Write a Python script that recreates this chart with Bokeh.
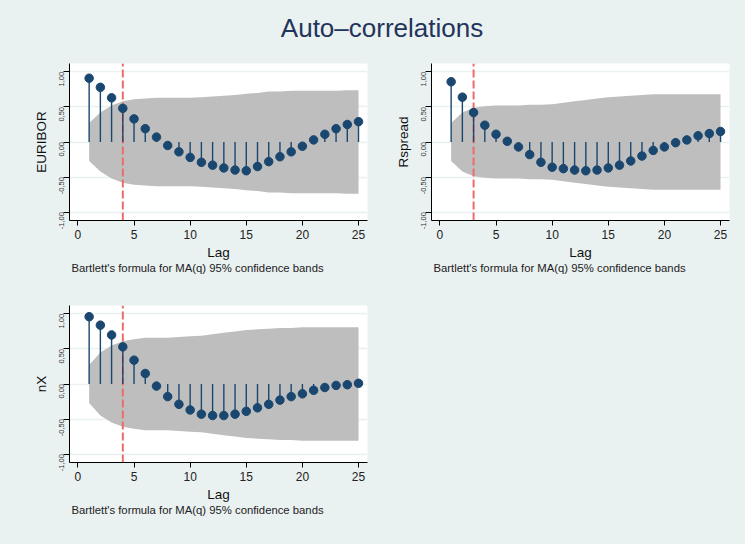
import math
from bokeh.plotting import figure
from bokeh.layouts import column, row
from bokeh.models import Range1d, Title, FixedTicker, Spacer
from bokeh.embed import file_html
from bokeh.resources import INLINE
from bokeh.core.properties import value

# ---------------- data ----------------
lags = list(range(1, 26))

euribor_acf = [0.91, 0.78, 0.63, 0.48, 0.33, 0.19, 0.07, -0.05, -0.14, -0.22,
               -0.29, -0.33, -0.37, -0.40, -0.41, -0.35, -0.28, -0.21, -0.14, -0.06,
               0.03, 0.11, 0.19, 0.25, 0.29]
euribor_band = [0.27, 0.42, 0.52, 0.58, 0.61, 0.62, 0.63, 0.63, 0.63, 0.63,
                0.64, 0.65, 0.66, 0.67, 0.69, 0.70, 0.72, 0.72, 0.73, 0.73,
                0.73, 0.73, 0.73, 0.74, 0.74]

rspread_acf = [0.86, 0.64, 0.42, 0.24, 0.11, 0.01, -0.07, -0.18, -0.29, -0.36,
               -0.38, -0.40, -0.41, -0.40, -0.37, -0.33, -0.27, -0.20, -0.12, -0.07,
               -0.01, 0.03, 0.09, 0.12, 0.15]
rspread_band = [0.27, 0.42, 0.49, 0.51, 0.52, 0.52, 0.52, 0.53, 0.53, 0.54,
                0.56, 0.58, 0.60, 0.62, 0.64, 0.65, 0.66, 0.67, 0.68, 0.68,
                0.68, 0.68, 0.68, 0.68, 0.68]

nx_acf = [0.96, 0.84, 0.70, 0.53, 0.34, 0.15, -0.03, -0.18, -0.29, -0.37,
          -0.43, -0.45, -0.45, -0.43, -0.39, -0.34, -0.29, -0.23, -0.18, -0.14,
          -0.09, -0.05, -0.02, -0.01, 0.01]
nx_band = [0.27, 0.45, 0.55, 0.61, 0.64, 0.66, 0.66, 0.66, 0.67, 0.68,
           0.69, 0.71, 0.73, 0.75, 0.77, 0.78, 0.79, 0.80, 0.80, 0.81,
           0.81, 0.81, 0.81, 0.81, 0.81]

series_names = ["EURIBOR", "Rspread", "nX"]
ma_orders = [4, 3, 4]

y_ticks = [-1.0, -0.5, 0.0, 0.5, 1.0]
y_tick_labels = ["-1,00", "-0,50", "0,00", "0,50", "1,00"]
x_ticks = [0, 5, 10, 15, 20, 25]

title_text = "Auto\u2013correlations"
note_text = "Bartlett's formula for MA(q) 95% confidence bands"
x_label = "Lag"

# ---------------- style ----------------
BG = "#EAF1F1"
NAVY = "#1A476F"
BAND = "#BEBEBE"
RED = "#EE6B6B"
FONT = "Liberation Sans"
Y_MIN, Y_MAX = -1.12, 1.12
X_MIN, X_MAX = -0.75, 25.8


def make_panel(name, acf, band, q, width, left_border, right_border):
    p = figure(width=width, height=242,
               x_range=Range1d(X_MIN, X_MAX), y_range=Range1d(Y_MIN, Y_MAX),
               output_backend="svg", toolbar_location=None,
               min_border_left=left_border, min_border_right=right_border,
               min_border_top=13, min_border_bottom=72)
    p.background_fill_color = "white"
    p.border_fill_color = BG
    p.outline_line_color = None

    neg_band = [-b for b in band]
    p.varea(x=lags, y1=neg_band, y2=band, fill_color=BAND)
    p.segment(x0=[q], y0=[Y_MIN], x1=[q], y1=[Y_MAX], line_color=RED,
              line_width=2, line_dash="8 3")
    p.segment(x0=lags, y0=[0] * len(lags), x1=lags, y1=acf,
              line_color=NAVY, line_width=1.4)
    p.scatter(x=lags, y=acf, size=8.5, fill_color=NAVY, line_color=NAVY)

    # grid
    p.xgrid.visible = False
    p.ygrid.ticker = FixedTicker(ticks=y_ticks)
    p.ygrid.grid_line_color = BG
    p.ygrid.grid_line_width = 1.5

    # y axis
    ya = p.yaxis[0]
    ya.ticker = FixedTicker(ticks=y_ticks)
    ya.major_label_overrides = dict(zip(y_ticks, y_tick_labels))
    ya.major_label_orientation = math.pi / 2
    ya.major_label_text_font = FONT
    ya.major_label_text_font_size = "7.5px"
    ya.major_label_text_color = "#333333"
    ya.major_label_standoff = 2
    ya.axis_label = name
    ya.axis_label_text_font = FONT
    ya.axis_label_text_font_size = "13.5px"
    ya.axis_label_text_font_style = "normal"
    ya.axis_label_text_color = "#111111"
    ya.axis_label_standoff = 5
    ya.major_tick_out = 6
    ya.major_tick_in = 0
    ya.minor_tick_out = 0
    ya.minor_tick_in = 0
    ya.axis_line_color = "black"
    ya.major_tick_line_color = "black"

    # x axis
    xa = p.xaxis[0]
    xa.ticker = FixedTicker(ticks=x_ticks)
    xa.major_label_text_font = FONT
    xa.major_label_text_font_size = "12px"
    xa.major_label_text_color = "#222222"
    xa.major_label_standoff = 4
    xa.axis_label = x_label
    xa.axis_label_text_font = FONT
    xa.axis_label_text_font_size = "13.5px"
    xa.axis_label_text_font_style = "normal"
    xa.axis_label_text_color = "#111111"
    xa.axis_label_standoff = 3
    xa.major_tick_out = 5
    xa.major_tick_in = 0
    xa.minor_tick_out = 0
    xa.minor_tick_in = 0
    xa.axis_line_color = "black"
    xa.major_tick_line_color = "black"

    note = Title(text=note_text, align="left", text_font=FONT,
                 text_font_size="11.3px", text_font_style="normal",
                 text_color="#222222", standoff=-5, offset=2)
    p.add_layout(note, "below")
    return p


p1 = make_panel(series_names[0], euribor_acf, euribor_band, ma_orders[0], 370, 69, 3)
p2 = make_panel(series_names[1], rspread_acf, rspread_band, ma_orders[1], 375, 61, 16)
p3 = make_panel(series_names[2], nx_acf, nx_band, ma_orders[2], 370, 69, 3)

# title strip
t = figure(width=745, height=50, x_range=Range1d(0, 745), y_range=Range1d(0, 50),
           output_backend="svg", toolbar_location=None, min_border=0)
t.axis.visible = False
t.grid.visible = False
t.outline_line_color = None
t.background_fill_color = BG
t.border_fill_color = BG
t.text(x=[381.5], y=[22.5], text=[title_text], text_align="center",
       text_baseline="alphabetic", text_font=value(FONT),
       text_font_size=value("26px"), text_color="#22345A")

layout = column(t, row(p1, p2), row(p3, Spacer(width=375, height=242)))

html = file_html(layout, INLINE)
html = html.replace("</head>", "<style>html,body{background:%s;}</style></head>" % BG, 1)
open("out.html", "w").write(html)
